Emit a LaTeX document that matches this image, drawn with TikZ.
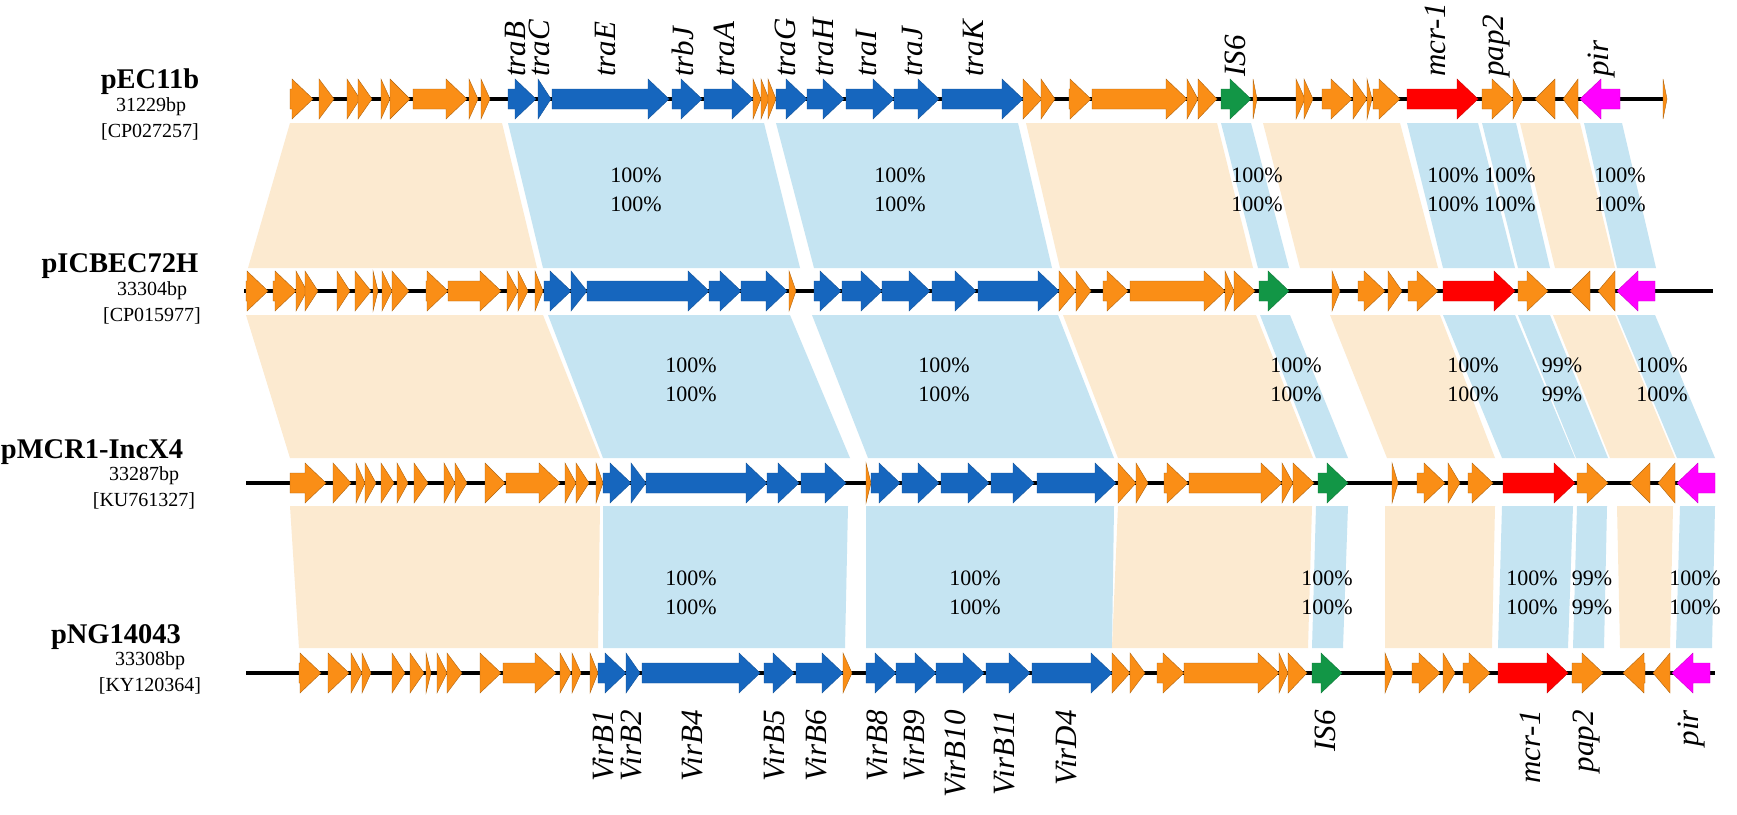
\documentclass[tikz,border=0pt]{standalone}
\usepackage{fontspec}
\setmainfont{Liberation Serif}
\definecolor{orgc}{RGB}{250,142,22}
\definecolor{bluec}{RGB}{22,102,190}
\definecolor{greenc}{RGB}{18,150,70}
\definecolor{redc}{RGB}{255,0,0}
\definecolor{magc}{RGB}{255,0,255}
\definecolor{bblue}{RGB}{197,228,242}
\definecolor{bbeige}{RGB}{252,234,208}
\newcommand\gR[4]{\pgfmathsetmacro\hx{max(#1,#2-21)}%
  \filldraw[#4] (#1,#3-10) -- (\hx,#3-10) -- (\hx,#3-20) -- (#2,#3) -- (\hx,#3+20) -- (\hx,#3+10) -- (#1,#3+10) -- cycle;}
\newcommand\gL[4]{\pgfmathsetmacro\hx{min(#2,#1+21)}%
  \filldraw[#4] (#2,#3-10) -- (\hx,#3-10) -- (\hx,#3-20) -- (#1,#3) -- (\hx,#3+20) -- (\hx,#3+10) -- (#2,#3+10) -- cycle;}
\newcommand\band[7]{\fill[#1] (#4,#2) -- (#5,#2) -- (#7,#3) -- (#6,#3) -- cycle;}
\begin{document}
\begin{tikzpicture}[x=1pt,y=-1pt,
  org/.style={fill=orgc,draw=orgc!70!black,line width=0.4pt},
  blu/.style={fill=bluec,draw=bluec!80!black,line width=0.4pt},
  grn/.style={fill=greenc,draw=greenc!80!black,line width=0.4pt},
  rd/.style={fill=redc,draw=redc!80!black,line width=0.4pt},
  mg/.style={fill=magc,draw=magc!80!black,line width=0.4pt},
  backbone/.style={line width=4pt,black},
  glab/.style={rotate=90,inner sep=0pt,font=\itshape\fontsize{31}{31}\selectfont},
  toplab/.style={glab,anchor=west},
  botlab/.style={glab,anchor=east},
  pct/.style={align=center,inner sep=0pt,font=\fontsize{22}{29}\selectfont},
  pname/.style={inner sep=0pt,font=\bfseries\fontsize{28.5}{30}\selectfont},
  psub/.style={inner sep=0pt,font=\fontsize{20}{22}\selectfont}]
\useasboundingbox (0,0) rectangle (1737,814);
\fill[white] (0,0) rectangle (1737,814);
% ---- bands 1 (row1 -> row2)
\band{bbeige}{123}{268}{290}{502}{248}{537}
\band{bblue}{123}{268}{508}{764}{543}{800}
\band{bblue}{123}{268}{776}{1018}{814}{1052}
\band{bbeige}{123}{268}{1026}{1217}{1060}{1253}
\band{bblue}{123}{268}{1221}{1251}{1258}{1289}
\band{bbeige}{123}{268}{1263}{1400}{1300}{1438}
\band{bblue}{123}{268}{1407}{1478}{1443}{1515}
\band{bblue}{123}{268}{1482}{1516}{1518}{1550}
\band{bbeige}{123}{268}{1520}{1580}{1555}{1615}
\band{bblue}{123}{268}{1584}{1622}{1617}{1656}
% ---- bands 2 (row2 -> row3)
\band{bbeige}{315}{458}{246}{543}{290}{600}
\band{bblue}{315}{458}{548}{790}{603}{850}
\band{bblue}{315}{458}{812}{1058}{868}{1114}
\band{bbeige}{315}{458}{1063}{1256}{1118}{1313}
\band{bblue}{315}{458}{1260}{1290}{1316}{1348}
\band{bbeige}{315}{458}{1330}{1440}{1387}{1495}
\band{bblue}{315}{458}{1443}{1515}{1502}{1575}
\band{bblue}{315}{458}{1518}{1550}{1576}{1608}
\band{bbeige}{315}{458}{1553}{1615}{1610}{1675}
\band{bblue}{315}{458}{1617}{1655}{1677}{1715}
% ---- bands 3 (row3 -> row4)
\band{bbeige}{506}{648}{290}{600}{299}{598}
\band{bblue}{506}{648}{603}{848}{603}{845}
\band{bblue}{506}{648}{866}{1114}{866}{1112}
\band{bbeige}{506}{648}{1118}{1312}{1112}{1308}
\band{bblue}{506}{648}{1316}{1348}{1312}{1343}
\band{bbeige}{506}{648}{1385}{1495}{1385}{1492}
\band{bblue}{506}{648}{1502}{1573}{1498}{1568}
\band{bblue}{506}{648}{1577}{1607}{1573}{1604}
\band{bbeige}{506}{648}{1617}{1673}{1620}{1670}
\band{bblue}{506}{648}{1680}{1715}{1676}{1712}
% ---- percentages
\node[pct] (p11) at (636,190) {100\%\\100\%};
\node[pct] (p12) at (900,190) {100\%\\100\%};
\node[pct] (p13) at (1257,190) {100\%\\100\%};
\node[pct] (p14) at (1453,190) {100\%\\100\%};
\node[pct] (p15) at (1510,190) {100\%\\100\%};
\node[pct] (p16) at (1620,190) {100\%\\100\%};
\node[pct] (p21) at (691,380) {100\%\\100\%};
\node[pct] (p22) at (944,380) {100\%\\100\%};
\node[pct] (p23) at (1296,380) {100\%\\100\%};
\node[pct] (p24) at (1473,380) {100\%\\100\%};
\node[pct] (p25) at (1562,380) {99\%\\99\%};
\node[pct] (p26) at (1662,380) {100\%\\100\%};
\node[pct] (p31) at (691,593) {100\%\\100\%};
\node[pct] (p32) at (975,593) {100\%\\100\%};
\node[pct] (p33) at (1327,593) {100\%\\100\%};
\node[pct] (p34) at (1532,593) {100\%\\100\%};
\node[pct] (p35) at (1592,593) {99\%\\99\%};
\node[pct] (p36) at (1695,593) {100\%\\100\%};
% ---- backbones
\draw[backbone] (290,99) -- (1665,99);
\draw[backbone] (244,291) -- (1713,291);
\draw[backbone] (246,483) -- (1715,483);
\draw[backbone] (246,673) -- (1715,673);
% ---- row 1 genes
\foreach \a/\b in {290/313,319/334,347/360,358/372,381/390,390/410,413/467,469/478,481/490,753/761,761/769,768/776,1023/1042,1041/1055,1069/1091,1092/1187,1187/1198,1198/1217,1253/1257,1296/1305,1304/1313,1322/1352,1353/1367,1367/1372,1373/1400,1482/1513,1513/1523,1663/1667} {\gR{\a}{\b}{99}{org}}
\foreach \a/\b in {508/536,538/551,552/669,672/702,704/753,776/807,807/844,846/894,894/939,942/1023} {\gR{\a}{\b}{99}{blu}}
\gR{1221}{1251}{99}{grn}
\gR{1407}{1478}{99}{rd}
\gL{1535}{1555}{99}{org}
\gL{1563}{1578}{99}{org}
\gL{1580}{1620}{99}{mg}
% ---- row 2 genes
\foreach \a/\b in {246/268,273/296,296/307,305/318,337/350,355/371,373/378,382/392,392/409,426/448,448/501,507/518,518/528,535/543,789/796,1059/1076,1076/1091,1103/1128,1130/1225,1225/1234,1234/1255,1332/1340,1358/1385,1388/1402,1408/1438,1518/1548} {\gR{\a}{\b}{291}{org}}
\foreach \a/\b in {544/571,571/587,587/709,709/741,741/787,814/841,842/882,882/930,932/976,978/1059} {\gR{\a}{\b}{291}{blu}}
\gR{1259}{1289}{291}{grn}
\gR{1443}{1515}{291}{rd}
\gL{1570}{1590}{291}{org}
\gL{1598}{1615}{291}{org}
\gL{1617}{1655}{291}{mg}
% ---- row 3 genes
\foreach \a/\b in {290/326,333/351,356/365,365/376,381/394,397/408,414/428,444/455,455/467,485/505,506/560,565/576,576/589,596/603,866/871,1118/1136,1136/1148,1164/1188,1189/1282,1282/1293,1293/1314,1392/1398,1417/1445,1448/1460,1468/1493,1577/1608} {\gR{\a}{\b}{483}{org}}
\foreach \a/\b in {603/631,631/646,646/767,767/799,801/846,871/900,902/939,941/989,991/1034,1037/1116} {\gR{\a}{\b}{483}{blu}}
\gR{1318}{1348}{483}{grn}
\gR{1503}{1575}{483}{rd}
\gL{1630}{1650}{483}{org}
\gL{1658}{1675}{483}{org}
\gL{1677}{1715}{483}{mg}
% ---- row 4 genes
\foreach \a/\b in {299/321,328/349,351/362,362/371,392/405,410/424,426/431,437/447,447/462,480/501,503/556,560/571,572/581,590/598,843/852,1112/1130,1130/1145,1157/1184,1184/1279,1279/1288,1288/1307,1385/1393,1412/1440,1443/1455,1463/1490,1572/1603} {\gR{\a}{\b}{673}{org}}
\foreach \a/\b in {598/626,626/640,642/760,764/794,796/843,866/896,896/936,936/984,986/1030,1032/1112} {\gR{\a}{\b}{673}{blu}}
\gR{1312}{1342}{673}{grn}
\gR{1498}{1568}{673}{rd}
\gL{1623}{1645}{673}{org}
\gL{1653}{1670}{673}{org}
\gL{1672}{1710}{673}{mg}
% ---- top labels
\node[toplab] (traB) at (516,77) {traB};
\node[toplab] (traC) at (539,77) {traC};
\node[toplab] (traE) at (606,77) {traE};
\node[toplab] (trbJ) at (683,77) {trbJ};
\node[toplab] (traA) at (724,77) {traA};
\node[toplab] (traG) at (785,77) {traG};
\node[toplab] (traH) at (823,77) {traH};
\node[toplab] (traI) at (866,77) {traI};
\node[toplab] (traJ) at (912,77) {traJ};
\node[toplab] (traK) at (973,77) {traK};
\node[toplab] (IS6a) at (1235,77) {IS6};
\node[toplab] (mcra) at (1435,77) {mcr-1};
\node[toplab] (papa) at (1497,77) {pap2};
\node[toplab] (pira) at (1602,77) {pir};
% ---- bottom labels
\node[botlab] (VirB1) at (603,710) {VirB1};
\node[botlab] (VirB2) at (631,710) {VirB2};
\node[botlab] (VirB4) at (692,710) {VirB4};
\node[botlab] (VirB5) at (774,710) {VirB5};
\node[botlab] (VirB6) at (816,710) {VirB6};
\node[botlab] (VirB8) at (877,710) {VirB8};
\node[botlab] (VirB9) at (914,710) {VirB9};
\node[botlab] (VirB10) at (955,710) {VirB10};
\node[botlab] (VirB11) at (1004,710) {VirB11};
\node[botlab] (VirD4) at (1066,710) {VirD4};
\node[botlab] (IS6b) at (1325,710) {IS6};
\node[botlab] (mcrb) at (1530,710) {mcr-1};
\node[botlab] (papb) at (1587,710) {pap2};
\node[botlab] (pirb) at (1692,710) {pir};
% ---- plasmid names
\node[pname] (n1) at (150,82) {pEC11b};
\node[psub] (s1) at (151,107) {31229bp};
\node[psub] (a1) at (150,132) {[CP027257]};
\node[pname] (n2) at (120,266) {pICBEC72H};
\node[psub] (s2) at (152,291) {33304bp};
\node[psub] (a2) at (152,316) {[CP015977]};
\node[pname] (n3) at (92,452) {pMCR1-IncX4};
\node[psub] (s3) at (144,476) {33287bp};
\node[psub] (a3) at (144,501) {[KU761327]};
\node[pname] (n4) at (116,637) {pNG14043};
\node[psub] (s4) at (150,661) {33308bp};
\node[psub] (a4) at (150,686) {[KY120364]};
\end{tikzpicture}
\end{document}
